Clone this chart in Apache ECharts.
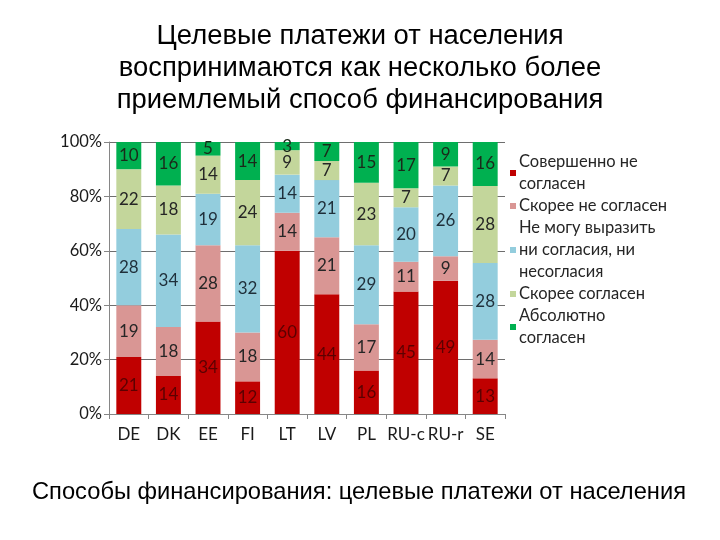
<!DOCTYPE html>
<html>
<head>
<meta charset="utf-8">
<script src="https://cdn.jsdelivr.net/npm/echarts@6/dist/echarts.min.js"></script>
<style>html,body{margin:0;padding:0;background:#fff}#c{width:720px;height:540px}</style>
</head>
<body>
<div id="c"></div>
<script>
var categories = ['DE','DK','EE','FI','LT','LV','PL','RU-c','RU-r','SE'];
var seriesNames = ['Совершенно не согласен','Скорее не согласен','Не могу выразить ни согласия, ни несогласия','Скорее согласен','Абсолютно согласен'];
var legendLabels = ['Совершенно не\nсогласен','Скорее не согласен','Не могу выразить\nни согласия, ни\nнесогласия','Скорее согласен','Абсолютно\nсогласен'];
var fullyDisagree = [21,14,34,12,60,44,16,45,49,13];
var ratherDisagree = [19,18,28,18,14,21,17,11,9,14];
var neutral = [28,34,19,32,14,21,29,20,26,28];
var ratherAgree = [22,18,14,24,9,7,23,7,7,28];
var fullyAgree = [10,16,5,14,3,7,15,17,9,16];
var yTicks = ['0%','20%','40%','60%','80%','100%'];
var titleLines = ['Целевые платежи от населения','воспринимаются как несколько более','приемлемый способ финансирования'];
var subtitle = 'Способы финансирования: целевые платежи от населения';

var colors = ['#C00000','#D99694','#93CDDD','#C3D69B','#00B050'];
var labelColors = ['#5c0000','#262626','#1f2f3a','#262626','#1a2a1a'];

var raw = [fullyDisagree, ratherDisagree, neutral, ratherAgree, fullyAgree];
var totals = categories.map(function(c,i){var s=0;raw.forEach(function(a){s+=a[i];});return s;});

var font = 'Lato, "Open Sans", sans-serif';
var titleFont = '"Liberation Sans", Arial, sans-serif';

var mctx = document.createElement('canvas').getContext('2d');
function widthOf(t, size){ mctx.font = size + 'px ' + titleFont; return mctx.measureText(t).width; }
var titleScale = 407 / widthOf(titleLines[0], 27);
var subScale = 654 / widthOf(subtitle, 24);

var series = raw.map(function(arr, k){
  return {
    name: seriesNames[k],
    type: 'bar',
    stack: 'all',
    barWidth: '63%',
    itemStyle: {color: colors[k]},
    label: {
      show: true, position: 'inside',
      fontFamily: font, fontSize: 17, color: labelColors[k],
      formatter: function(p){ return arr[p.dataIndex]; }
    },
    data: arr.map(function(v,i){ return v / totals[i] * 100; })
  };
});

var titleY = [36.5, 69, 100.5];
var graphics = titleLines.map(function(t, i){
  return {
    type: 'text', x: 360, y: titleY[i], scaleX: titleScale, scaleY: 1,
    style: {text: t, font: '27px ' + titleFont, fill: '#000', align: 'center', verticalAlign: 'middle'}
  };
});
graphics.push({
  type: 'text', x: 359, y: 492, scaleX: subScale, scaleY: 1,
  style: {text: subtitle, font: '24px ' + titleFont, fill: '#000', align: 'center', verticalAlign: 'middle'}
});

var chart = echarts.init(document.getElementById('c'), null, {renderer:'canvas'});
chart.setOption({
  animation: false,
  graphic: graphics,
  legend: {
    orient: 'vertical', left: 510, top: 151, padding: 0,
    itemWidth: 6, itemHeight: 6, itemGap: 0,
    icon: 'rect',
    data: seriesNames,
    formatter: function(n){ return legendLabels[seriesNames.indexOf(n)]; },
    textStyle: {fontFamily: font, fontSize: 16.5, color: '#262626', lineHeight: 22, padding: [0,0,0,-2]}
  },
  grid: {left: 109, right: 215, top: 142, bottom: 126},
  xAxis: {
    type: 'category', data: categories,
    axisLine: {lineStyle: {color: '#868686'}},
    axisTick: {show: true, length: 5, lineStyle: {color: '#868686'}},
    axisLabel: {fontFamily: font, fontSize: 17, color: '#1a1a1a', margin: 12, interval: 0}
  },
  yAxis: {
    type: 'value', min: 0, max: 100, interval: 20,
    axisLine: {show: true, lineStyle: {color: '#868686'}},
    axisTick: {show: true, length: 5, lineStyle: {color: '#868686'}},
    splitLine: {show: true, lineStyle: {color: '#6e6e6e'}},
    axisLabel: {fontFamily: font, fontSize: 16.5, color: '#1a1a1a', margin: 7,
      formatter: function(v){ return yTicks[Math.round(v/20)]; }}
  },
  series: series
});
</script>
</body>
</html>
